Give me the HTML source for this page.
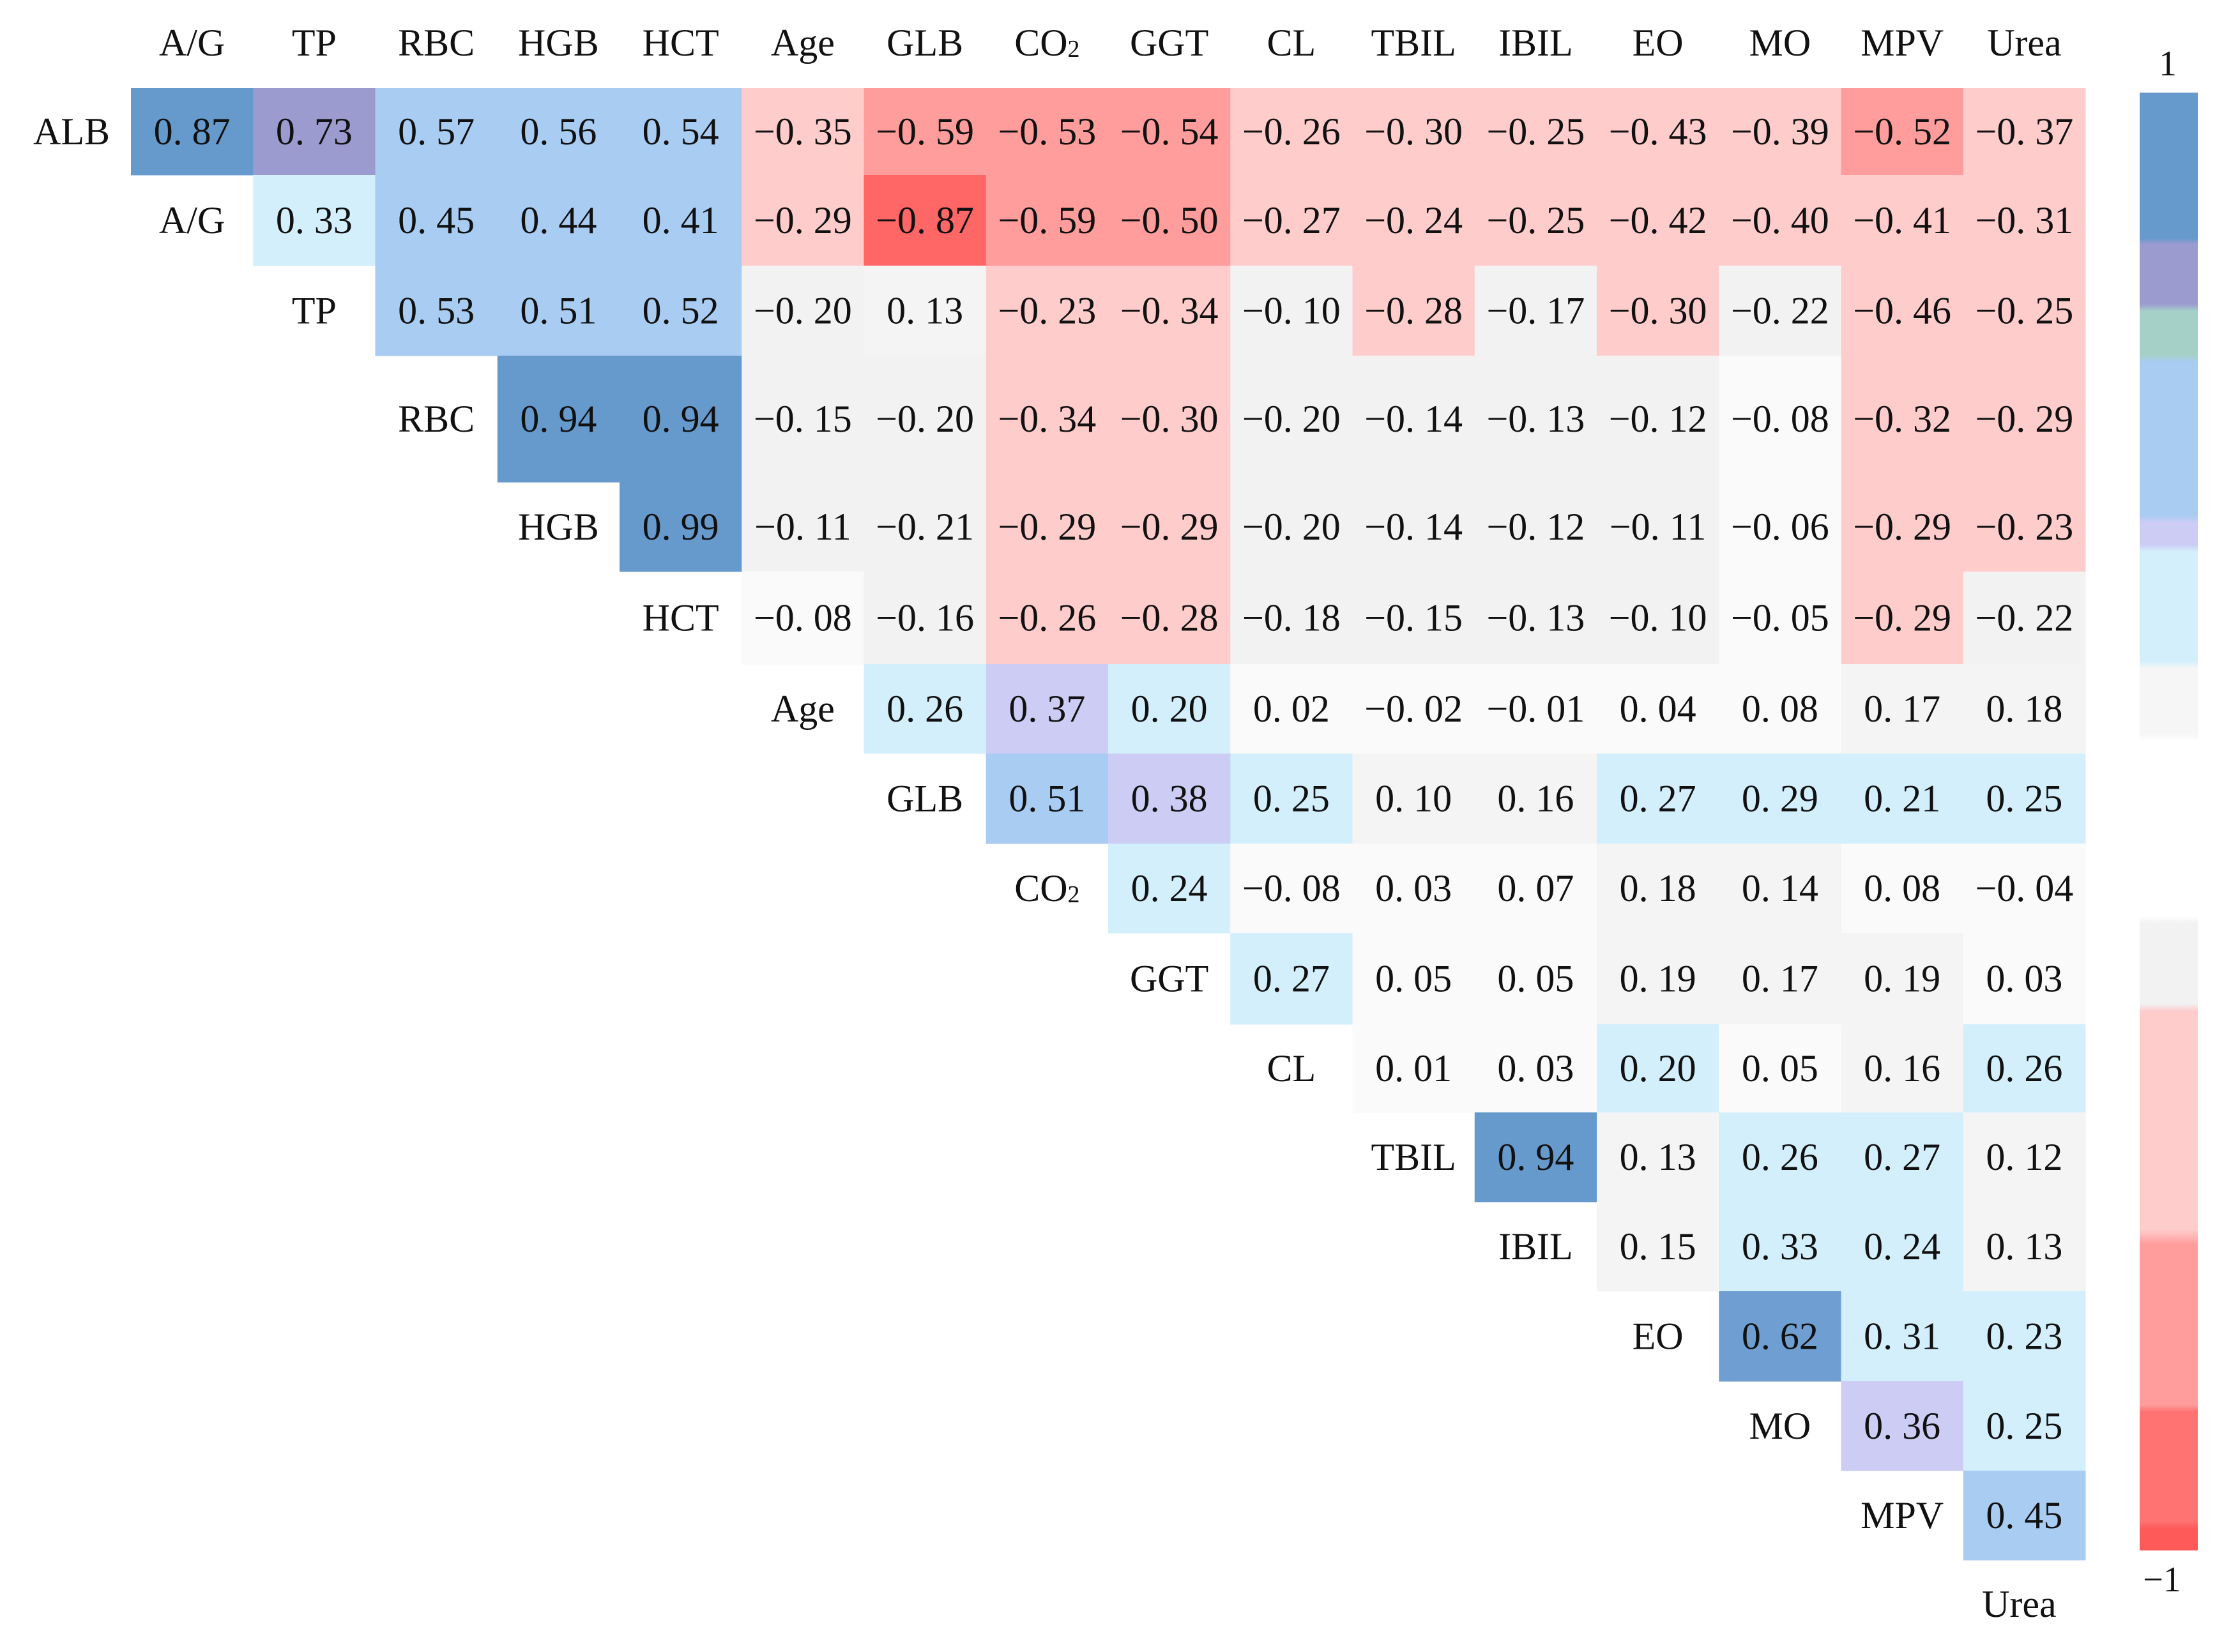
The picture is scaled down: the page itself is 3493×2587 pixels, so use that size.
<!DOCTYPE html>
<html><head><meta charset="utf-8"><style>
html,body{margin:0;padding:0;background:#fff;}
svg{display:block;}
svg text{font-family:"Liberation Serif","DejaVu Serif","Noto Serif CJK SC",serif !important;}
</style></head><body>
<svg id="chart" width="3493" height="2587" viewBox="0 0 3493 2587" xmlns="http://www.w3.org/2000/svg">
<defs>
<linearGradient id="cbar" x1="0" y1="0" x2="0" y2="1">
<stop offset="0" stop-color="#6699cc"/><stop offset="0.1" stop-color="#6699cc"/>
<stop offset="0.104" stop-color="#9b9bd0"/><stop offset="0.145" stop-color="#9b9bd0"/>
<stop offset="0.15" stop-color="#a5d0c8"/><stop offset="0.18" stop-color="#a5d0c8"/>
<stop offset="0.185" stop-color="#a9ccf3"/><stop offset="0.29" stop-color="#a9ccf3"/>
<stop offset="0.295" stop-color="#ccccf5"/><stop offset="0.31" stop-color="#ccccf5"/>
<stop offset="0.315" stop-color="#d4effc"/><stop offset="0.39" stop-color="#d4effc"/>
<stop offset="0.395" stop-color="#f6f6f6"/><stop offset="0.44" stop-color="#f6f6f6"/>
<stop offset="0.445" stop-color="#ffffff"/><stop offset="0.565" stop-color="#ffffff"/>
<stop offset="0.57" stop-color="#f2f2f2"/><stop offset="0.625" stop-color="#f2f2f2"/>
<stop offset="0.63" stop-color="#ffcccc"/><stop offset="0.78" stop-color="#ffcccc"/>
<stop offset="0.79" stop-color="#ff9c9c"/><stop offset="0.9" stop-color="#ff9c9c"/>
<stop offset="0.905" stop-color="#ff7373"/><stop offset="0.98" stop-color="#ff7373"/>
<stop offset="0.985" stop-color="#ff5a5a"/><stop offset="1" stop-color="#ff5a5a"/>
</linearGradient>
</defs>
<g id="cells"></g>
<g id="labels"></g>
<rect x="3350" y="145" width="91" height="2283" fill="url(#cbar)"/>
<text x="3394" y="118" font-size="56" text-anchor="middle" fill="#111">1</text>
<text x="3385" y="2492" font-size="56" text-anchor="middle" fill="#111">−1</text>
</svg>
<script>
const colLabels = ["A/G","TP","RBC","HGB","HCT","Age","GLB","CO2","GGT","CL","TBIL","IBIL","EO","MO","MPV","Urea"];
const rowLabels = ["ALB","A/G","TP","RBC","HGB","HCT","Age","GLB","CO2","GGT","CL","TBIL","IBIL","EO","MO","MPV"];
const row0 = [0.87,0.73,0.57,0.56,0.54,-0.35,-0.59,-0.53,-0.54,-0.26,-0.30,-0.25,-0.43,-0.39,-0.52,-0.37];
const row1 = [0.33,0.45,0.44,0.41,-0.29,-0.87,-0.59,-0.50,-0.27,-0.24,-0.25,-0.42,-0.40,-0.41,-0.31];
const row2 = [0.53,0.51,0.52,-0.20,0.13,-0.23,-0.34,-0.10,-0.28,-0.17,-0.30,-0.22,-0.46,-0.25];
const row3 = [0.94,0.94,-0.15,-0.20,-0.34,-0.30,-0.20,-0.14,-0.13,-0.12,-0.08,-0.32,-0.29];
const row4 = [0.99,-0.11,-0.21,-0.29,-0.29,-0.20,-0.14,-0.12,-0.11,-0.06,-0.29,-0.23];
const row5 = [-0.08,-0.16,-0.26,-0.28,-0.18,-0.15,-0.13,-0.10,-0.05,-0.29,-0.22];
const row6 = [0.26,0.37,0.20,0.02,-0.02,-0.01,0.04,0.08,0.17,0.18];
const row7 = [0.51,0.38,0.25,0.10,0.16,0.27,0.29,0.21,0.25];
const row8 = [0.24,-0.08,0.03,0.07,0.18,0.14,0.08,-0.04];
const row9 = [0.27,0.05,0.05,0.19,0.17,0.19,0.03];
const row10 = [0.01,0.03,0.20,0.05,0.16,0.26];
const row11 = [0.94,0.13,0.26,0.27,0.12];
const row12 = [0.15,0.33,0.24,0.13];
const row13 = [0.62,0.31,0.23];
const row14 = [0.36,0.25];
const row15 = [0.45];
const rows = [row0,row1,row2,row3,row4,row5,row6,row7,row8,row9,row10,row11,row12,row13,row14,row15];

const X0 = 205, CW = 191.25;
const rowEdges = [138,274,416,557,755,895,1040,1180,1321,1461,1604,1742,1882,2022,2163,2303,2443];
function xPos(j){ return X0 + j*CW; }
function colorFor(v){
  if (v >= 0.8) return "#6699cc";
  if (v >= 0.7) return "#9b9bd0";
  if (v >= 0.6) return "#6f9fd2";
  if (v >= 0.4) return "#a9ccf3";
  if (v >= 0.345) return "#ccccf5";
  if (v >= 0.195) return "#d4effc";
  if (v >= 0.1) return "#f4f4f4";
  if (v > -0.1) return "#fafafa";
  if (v > -0.225) return "#f2f2f2";
  if (v > -0.495) return "#ffcccc";
  if (v > -0.7) return "#ff9c9c";
  return "#ff6666";
}
function fmt(v){
  const s = Math.abs(v).toFixed(2).replace(".", ". ");
  return (v < 0 ? "−" : "") + s;
}
const NS = "http://www.w3.org/2000/svg";
const cellsG = document.getElementById("cells");
const labelsG = document.getElementById("labels");
function addText(parent, x, y, str, name){
  const t = document.createElementNS(NS, "text");
  t.setAttribute("x", x); t.setAttribute("y", y);
  t.setAttribute("font-size", "60");
  t.setAttribute("fill", "#111");
  t.setAttribute("text-anchor", "middle");
  t.setAttribute("dominant-baseline", "central");
  
  
  if (str === "CO2") {
    t.textContent = "CO";
    const s = document.createElementNS(NS, "tspan");
    s.setAttribute("font-size", "38"); s.setAttribute("dy", "10");
    s.textContent = "2";
    t.appendChild(s);
  } else t.textContent = str;
  parent.appendChild(t);
}
colLabels.forEach((c, j) => {
  addText(labelsG, xPos(j) + CW/2, 67, c, "column-label-" + c.toLowerCase().replace("/", ""));
});
rows.forEach((vals, i) => {
  const y0 = rowEdges[i], y1 = rowEdges[i+1], yc = (y0 + y1)/2;
  const lx = i === 0 ? 112 : xPos(i-1) + CW/2;
  addText(labelsG, lx, yc, rowLabels[i], "row-label-" + rowLabels[i].toLowerCase().replace("/", ""));
  vals.forEach((v, k) => {
    const j = i + k;
    const r = document.createElementNS(NS, "rect");
    r.setAttribute("x", xPos(j)); r.setAttribute("y", y0);
    r.setAttribute("width", CW + 0.5); r.setAttribute("height", y1 - y0 + 0.5);
    r.setAttribute("fill", colorFor(v));
    
    
    cellsG.appendChild(r);
    addText(labelsG, xPos(j) + CW/2, yc, fmt(v), "cell-value");
  });
});
addText(labelsG, xPos(15) + CW/2 - 8, 2512, "Urea", "row-label-urea-bottom");
</script>
</body></html>
